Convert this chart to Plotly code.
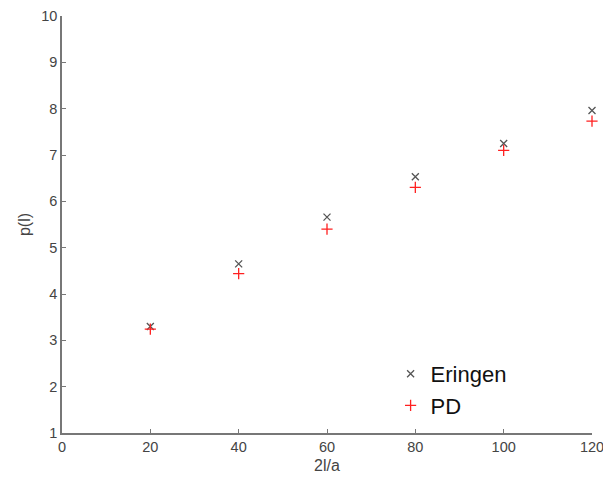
import plotly.graph_objects as go

x_vals = [20, 40, 60, 80, 100, 120]
eringen = [3.30, 4.65, 5.66, 6.53, 7.25, 7.96]
pd_vals = [3.24, 4.44, 5.40, 6.30, 7.10, 7.73]

fig = go.Figure()
fig.add_trace(go.Scatter(x=x_vals, y=eringen, mode="markers", name="Eringen", cliponaxis=False,
                         marker=dict(symbol="x-thin", size=7, line=dict(color="#555555", width=1.3))))
fig.add_trace(go.Scatter(x=x_vals, y=pd_vals, mode="markers", name="PD", cliponaxis=False,
                         marker=dict(symbol="cross-thin", size=8, line=dict(color="#ff2020", width=1.3))))

FONT = "Liberation Sans, Arial"
axis_common = dict(showgrid=False, zeroline=False, showline=True, linecolor="#777777", linewidth=1.5,
                   ticks="inside", ticklen=4, tickcolor="#777777", tickwidth=1, automargin=False,
                   ticklabeloverflow="allow",
                   tickfont=dict(family=FONT, size=14.5, color="#444444"),
                   title_font=dict(family=FONT, size=16, color="#444444"))

fig.update_xaxes(range=[0, 120], dtick=20, title_text="2l/a", title_standoff=6, **axis_common)
fig.update_yaxes(range=[1, 10], dtick=1, title_text="p(l)", title_standoff=7, **axis_common)

fig.update_layout(
    width=603, height=484,
    margin=dict(l=62, r=11, t=16, b=51),
    plot_bgcolor="white", paper_bgcolor="white",
    legend=dict(x=0.62, y=0.192, xanchor="left", yanchor="top",
                font=dict(family=FONT, size=22, color="#111111"),
                bgcolor="rgba(0,0,0,0)", itemwidth=30, tracegroupgap=0),
)

fig.write_html("out.html")
